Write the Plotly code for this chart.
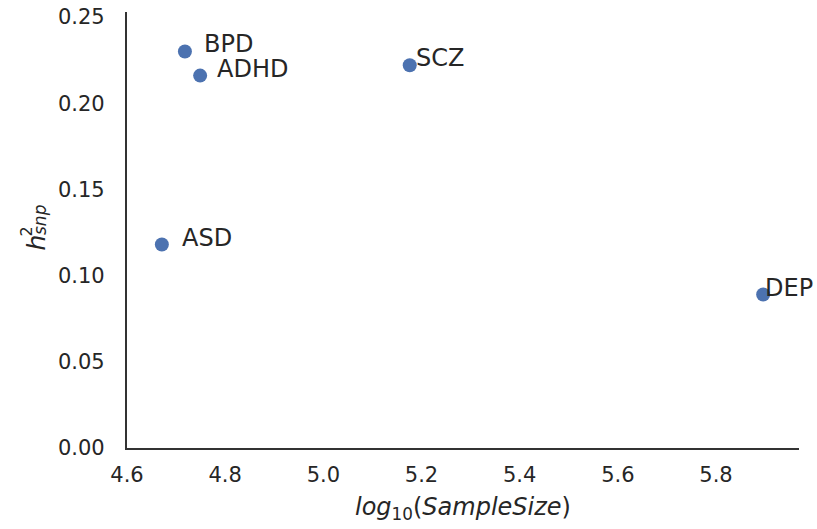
import plotly.graph_objects as go

# SNP heritability against log10 sample size for five psychiatric traits
traits = ["BPD", "ADHD", "SCZ", "ASD", "DEP"]
log_sample_size = [4.718, 4.749, 5.176, 4.671, 5.896]
h2_snp = [0.230, 0.216, 0.222, 0.118, 0.089]

x_ticks = [4.6, 4.8, 5.0, 5.2, 5.4, 5.6, 5.8]
y_ticks = [0.00, 0.05, 0.10, 0.15, 0.20, 0.25]

# horizontal pixel offset of each trait label from its marker
label_shift = {"BPD": 17, "ADHD": 15, "SCZ": 4, "ASD": 18, "DEP": 0}

TEXT = "#262626"
FONT = "DejaVu Sans"

fig = go.Figure(
    go.Scatter(
        x=log_sample_size,
        y=h2_snp,
        mode="markers",
        marker=dict(size=14, color="#4C72B0", line=dict(width=0)),
        hoverinfo="skip",
    )
)

for name, xv, yv in zip(traits, log_sample_size, h2_snp):
    fig.add_annotation(
        x=xv, y=yv, text=name, showarrow=False,
        xanchor="left", yanchor="middle",
        xshift=label_shift[name], yshift=7,
        font=dict(family=FONT, size=24, color=TEXT),
    )

# y-axis label: italic h with a stacked superscript 2 and subscript snp
y_label_parts = [
    ("<i>h</i>", 25, -108, -13),
    ("2", 16, -113, -2),
    ("<i>snp</i>", 17, -99, 10),
]
for txt, size, dx, dy in y_label_parts:
    fig.add_annotation(
        xref="paper", yref="paper", x=0, y=0.5, xshift=dx, yshift=dy,
        text=txt, showarrow=False, textangle=-90,
        font=dict(family=FONT, size=size, color=TEXT),
    )

fig.update_layout(
    width=817, height=529,
    margin=dict(l=127, r=18, t=12, b=81),
    paper_bgcolor="white", plot_bgcolor="white",
    showlegend=False,
    font=dict(family=FONT, color=TEXT),
    xaxis=dict(
        range=[4.6, 5.969],
        tickvals=x_ticks, ticktext=[f"{v:.1f}" for v in x_ticks],
        tickfont=dict(size=21, color=TEXT),
        showgrid=False, zeroline=False, automargin=False,
        showline=True, linecolor="#333333", linewidth=2.2,
        ticks="", ticklabelstandoff=7,
        title=dict(
            text="<i>log</i><sub>10</sub>(<i>SampleSize</i>)",
            font=dict(size=24, color=TEXT), standoff=12,
        ),
    ),
    yaxis=dict(
        range=[0, 0.2529],
        tickvals=y_ticks, ticktext=[f"{v:.2f}" for v in y_ticks],
        tickfont=dict(size=21, color=TEXT),
        showgrid=False, zeroline=False, automargin=False,
        showline=True, linecolor="#333333", linewidth=2.2,
        ticks="", ticklabelstandoff=16,
    ),
)

fig.write_html("out.html")
